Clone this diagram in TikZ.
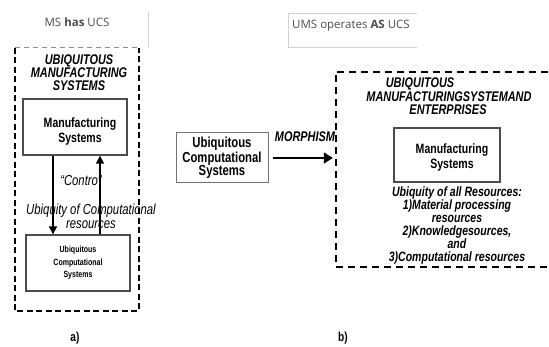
\documentclass[tikz,border=0pt]{standalone}
\usepackage{fontspec}
\setmainfont{Liberation Sans}
\newfontfamily\narrowfont[FakeStretch=0.78]{Liberation Sans}
\newfontfamily\uifont{Open Sans}
\usetikzlibrary{arrows.meta,calc}

\tikzset{
  frameheavy/.style={line width=2.4pt, dash pattern=on 6pt off 3.5pt},
  framelight/.style={line width=1pt, draw=black!45, dash pattern=on 5pt off 4pt},
  framemid/.style={line width=1.6pt, dash pattern=on 7pt off 5pt},
  box/.style={draw=black!70, line width=1.3pt, fill=white, inner sep=0pt},
  titletxt/.style={font=\narrowfont\bfseries\itshape\fontsize{14}{13}\selectfont, align=center, inner sep=0pt},
  rtitletxt/.style={font=\narrowfont\bfseries\itshape\fontsize{14}{13}\selectfont, align=center, inner sep=0pt},
  boxtxt/.style={font=\narrowfont\bfseries\fontsize{13.5}{15}\selectfont, align=center, inner sep=0pt},
  midtxt/.style={font=\narrowfont\bfseries\fontsize{14.5}{13.5}\selectfont, align=center, inner sep=0pt},
  tinytxt/.style={font=\narrowfont\bfseries\fontsize{9}{12.5}\selectfont, align=center, inner sep=0pt},
  itxt/.style={font=\narrowfont\itshape\fontsize{14.5}{14}\selectfont, align=center, inner sep=0pt},
  restxt/.style={font=\narrowfont\bfseries\itshape\fontsize{13.5}{13}\selectfont, align=center, inner sep=0pt},
  paneltxt/.style={font=\narrowfont\bfseries\fontsize{13}{14}\selectfont, inner sep=0pt},
  uitxt/.style={font=\uifont\fontsize{11.5}{13}\selectfont, text=black!70, inner sep=0pt},
  uiline/.style={draw=black!18, line width=0.9pt},
  arr/.style={line width=1.8pt, -{Triangle[width=8pt,length=8pt]}},
  bigarr/.style={line width=2pt, -{Triangle[width=11pt,length=9pt]}},
}

\begin{document}
\begin{tikzpicture}[x=1pt,y=-1pt]
\useasboundingbox (0,0) rectangle (549,347);

% headings above the two panels
\node[uitxt] (mslbl) at (77,22) {MS \textbf{has} UCS};
\draw[uiline] (148,12) -- (148,47);
\node[uitxt, anchor=west] (umslbl) at (292,26) {UMS operates \textbf{AS} UCS};
\draw[uiline] (417,13) -- (288,13) -- (288,47) -- (417,47);

% ---- panel a) ----
\node[minimum width=124, minimum height=263, inner sep=0pt] (lframe) at (77,179.5) {};
\draw[frameheavy] (lframe.north west) -- (lframe.south west) -- (lframe.south east) -- (lframe.north east);
\draw[framelight] (lframe.north west) -- (lframe.north east);

\node[titletxt] (ltitle) at (79,73) {UBIQUITOUS\\MANUFACTURING\\SYSTEMS};

\node[box, minimum width=104, minimum height=56] (ms) at (75,127) {};
\node[boxtxt] (mstxt) at (80,132) {Manufacturing\\Systems};

\node[box, minimum width=104, minimum height=56] (ucs) at (78,263) {};
\node[tinytxt] (ucstxt) at (78,263) {Ubiquitous\\Computational\\Systems};

\coordinate (xd) at (53,0);
\coordinate (xu) at (100,0);
\draw[arr] (ms.south -| xd) -- (ucs.north -| xd);
\draw[arr, line width=1.3pt] (ucs.north -| xu) -- (ms.south -| xu);

\node[itxt] (ctrl) at (81,181) {“Contro”};
\node[itxt] (ubq) at (91,216) {Ubiquity of Computational\\resources};

\node[paneltxt] (la) at (75,338) {a)};

% ---- panel b) ----
\node[box, draw=black!55, line width=1pt, minimum width=92, minimum height=50] (ucsm) at (222,158) {};
\node[midtxt] (ucsmtxt) at (222,158) {Ubiquitous\\Computational\\Systems};

\node[minimum width=224, minimum height=195, inner sep=0pt] (rframe) at (448,169.5) {};
\draw[framemid] (rframe.north east) -- (rframe.north west) -- (rframe.south west) -- (rframe.south east);

\node[rtitletxt] (morph) at (305,137) {MORPHISM};
\draw[bigarr, shorten <=4pt, shorten >=3pt] (ucsm.east) -- (rframe.west |- ucsm.east);

\node[rtitletxt] (rt1) at (420,84) {UBIQUITOUS};
\node[rtitletxt] (rt2) at (449,97) {MANUFACTURINGSYSTEMAND};
\node[rtitletxt] (rt3) at (448,110) {ENTERPRISES};

\node[box, minimum width=106, minimum height=54] (rms) at (447,155) {};
\node[boxtxt] (rmstxt) at (452,158) {Manufacturing\\Systems};

\node[restxt] (res) at (457,226) {Ubiquity of all Resources:\\1)Material processing\\resources\\2)Knowledgesources,\\and\\3)Computational resources};

\node[paneltxt] (lb) at (343,338) {b)};
\end{tikzpicture}
\end{document}
